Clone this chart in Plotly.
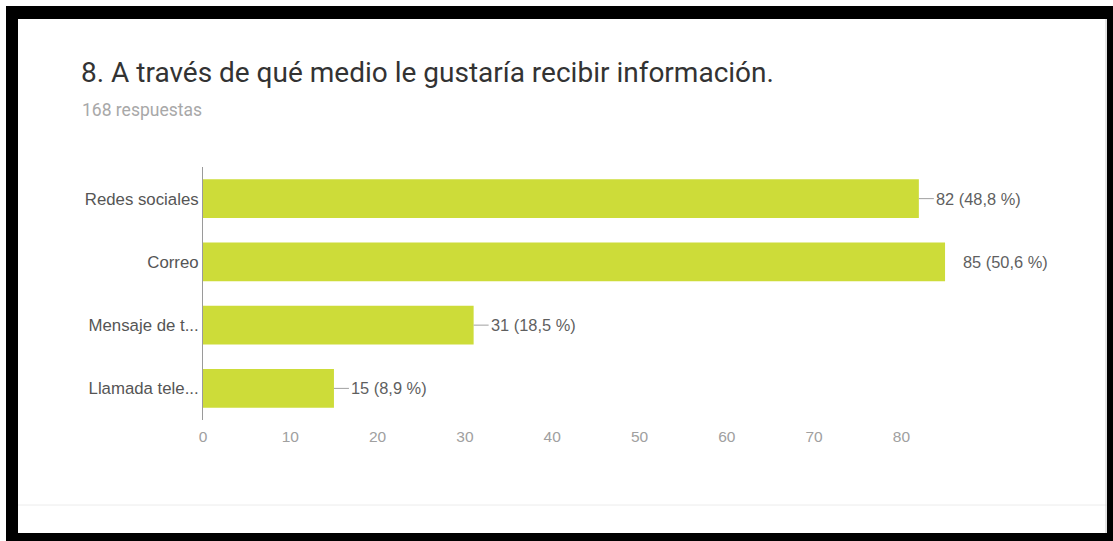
import plotly.graph_objects as go

# Survey question 8: preferred channel for receiving information
categories = ["Redes sociales", "Correo", "Mensaje de t...", "Llamada tele..."]
counts = [82, 85, 31, 15]
percents = ["48,8", "50,6", "18,5", "8,9"]
show_leader = [True, False, True, True]
x_ticks = [0, 10, 20, 30, 40, 50, 60, 70, 80]

title_text = "8. A través de qué medio le gustaría recibir información."
subtitle_text = "168 respuestas"

W, H = 1113, 541
L, R, T, B = 203, 37, 167, 121
PW, PH = W - L - R, H - T - B


def fx(px):
    return (px - L) / PW


def fy(py):
    return (T + PH - py) / PH


BAR = "#cddc39"
SANS = "Liberation Sans, Arial, sans-serif"

fig = go.Figure(
    go.Bar(
        y=categories,
        x=counts,
        orientation="h",
        marker=dict(color=BAR, line=dict(width=0)),
        width=0.61,
        hoverinfo="skip",
    )
)

annotations = []
for cat, n, p, lead in zip(categories, counts, percents, show_leader):
    label = f"{n} ({p} %)"
    if lead:
        annotations.append(dict(
            x=n, y=cat, xref="x", yref="y", text=label,
            showarrow=True, arrowhead=0, arrowwidth=1, arrowcolor="#a0a0a0",
            ax=15, ay=0, xanchor="left", yanchor="middle", standoff=0,
            font=dict(family=SANS, size=16.4, color="#5f5f5f"),
        ))
    else:
        annotations.append(dict(
            x=n, y=cat, xref="x", yref="y", text=label,
            showarrow=False, xanchor="left", yanchor="middle", xshift=16,
            font=dict(family=SANS, size=16.4, color="#5f5f5f"),
        ))

annotations.append(dict(
    x=fx(79), y=fy(73), xref="paper", yref="paper", text=title_text,
    showarrow=False, xanchor="left", yanchor="middle",
    font=dict(family="Roboto, sans-serif", size=28, color="#333333"),
))
annotations.append(dict(
    x=fx(80), y=fy(110), xref="paper", yref="paper", text=subtitle_text,
    showarrow=False, xanchor="left", yanchor="middle",
    font=dict(family="Roboto, sans-serif", size=17.5, color="#a8a8a8"),
))

# page frame: thick dark border and a faint divider near the bottom
shapes = []
for x0, y0, x1, y1 in [(6, 6, W, 19), (6, 6, 18, H), (1107, 6, W, H), (6, 533, W, H)]:
    shapes.append(dict(type="rect", xref="paper", yref="paper",
                       x0=fx(x0), x1=fx(x1), y0=fy(y1), y1=fy(y0),
                       fillcolor="#000000", line=dict(width=0), layer="above"))
shapes.append(dict(type="line", xref="paper", yref="paper",
                   x0=fx(18), x1=fx(1107), y0=fy(505), y1=fy(505),
                   line=dict(color="#ececec", width=1)))
shapes.append(dict(type="line", xref="paper", yref="paper",
                   x0=fx(1106), x1=fx(1106), y0=fy(533), y1=fy(19),
                   line=dict(color="#c8c8c8", width=1)))

fig.update_layout(
    width=W, height=H,
    margin=dict(l=L, r=R, t=T, b=B, pad=0),
    paper_bgcolor="#ffffff", plot_bgcolor="#ffffff",
    showlegend=False,
    annotations=annotations,
    shapes=shapes,
    bargap=0.39,
    xaxis=dict(
        range=[0, 100], tickvals=x_ticks, showgrid=False, zeroline=False,
        showline=False, ticks="", fixedrange=True,
        tickfont=dict(family=SANS, size=15.5, color="#a0a0a0"),
        ticklabelstandoff=5,
    ),
    yaxis=dict(
        autorange="reversed", showgrid=False, zeroline=False,
        showline=True, linecolor="#9a9a9a", linewidth=1, ticks="",
        tickfont=dict(family=SANS, size=16.8, color="#555555"),
        ticklabelstandoff=0, fixedrange=True,
    ),
)

fig.write_html("out.html", config={"displayModeBar": False})
